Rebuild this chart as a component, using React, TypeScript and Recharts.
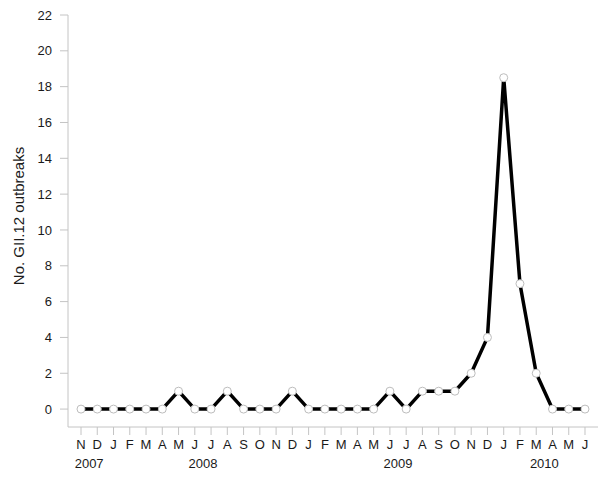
import { LineChart, Line, XAxis, YAxis } from 'recharts';

// Monthly GII.12 outbreaks, Nov 2007 - Jun 2010
const months = [
  'N', 'D',
  'J', 'F', 'M', 'A', 'M', 'J', 'J', 'A', 'S', 'O', 'N', 'D',
  'J', 'F', 'M', 'A', 'M', 'J', 'J', 'A', 'S', 'O', 'N', 'D',
  'J', 'F', 'M', 'A', 'M', 'J',
];
const outbreaks = [
  0, 0,
  0, 0, 0, 0, 1, 0, 0, 1, 0, 0, 0, 1,
  0, 0, 0, 0, 0, 1, 0, 1, 1, 1, 2, 4,
  18.5, 7, 2, 0, 0, 0,
];
const years = ['2007', '2008', '2009', '2010'];
const monthsPerYear = [2, 12, 12, 6];
const yTicks = [0, 2, 4, 6, 8, 10, 12, 14, 16, 18, 20, 22];

const chartData = months.map((m, i) => ({ idx: i, month: m, count: outbreaks[i] }));

// year labels sit under the middle of the months they cover
const yearTicks: number[] = [];
let start = 0;
monthsPerYear.forEach((n) => {
  yearTicks.push(start + (n - 1) / 2);
  start += n;
});

const axisColor = '#c4c4c4';
const tickStyle = { fill: '#1a1a1a', fontSize: 13 };

export default function App() {
  return (
    <div
      style={{
        position: 'absolute',
        left: 0,
        top: 0,
        background: '#fff',
        fontFamily: '"Liberation Sans", Arial, sans-serif',
      }}
    >
      <LineChart
        width={600}
        height={477}
        data={chartData}
        margin={{ top: 15, right: 2, bottom: 0, left: 0 }}
      >
        <XAxis
          dataKey="idx"
          type="number"
          domain={[-0.8, 31.8]}
          ticks={chartData.map((d) => d.idx)}
          interval={0}
          tickFormatter={(v) => months[v]}
          stroke={axisColor}
          tick={tickStyle}
          tickSize={8}
          tickMargin={5}
          height={28}
        />
        <XAxis
          xAxisId="year"
          dataKey="idx"
          type="number"
          domain={[-0.8, 31.8]}
          ticks={yearTicks}
          interval={0}
          tickFormatter={(v) => years[yearTicks.indexOf(v)]}
          axisLine={false}
          tickLine={false}
          tick={tickStyle}
          tickSize={0}
          tickMargin={4}
          height={22}
        />
        <YAxis
          type="number"
          domain={[-1, 22]}
          ticks={yTicks}
          interval={0}
          stroke={axisColor}
          tick={tickStyle}
          tickSize={8}
          tickMargin={8}
          width={68}
          label={({ viewBox }: any) => (
            <text
              x={18}
              y={viewBox.y + viewBox.height / 2 - 5}
              transform={`rotate(-90, 18, ${viewBox.y + viewBox.height / 2 - 5})`}
              textAnchor="middle"
              dominantBaseline="central"
              fontSize={15}
              fill="#1a1a1a"
            >
              No. GII.12 outbreaks
            </text>
          )}
        />
        <Line
          type="linear"
          dataKey="count"
          stroke="#000"
          strokeWidth={3.5}
          dot={{ r: 4, fill: '#fff', stroke: '#bdbdbd', strokeWidth: 1 }}
          activeDot={false}
          isAnimationActive={false}
        />
      </LineChart>
    </div>
  );
}
